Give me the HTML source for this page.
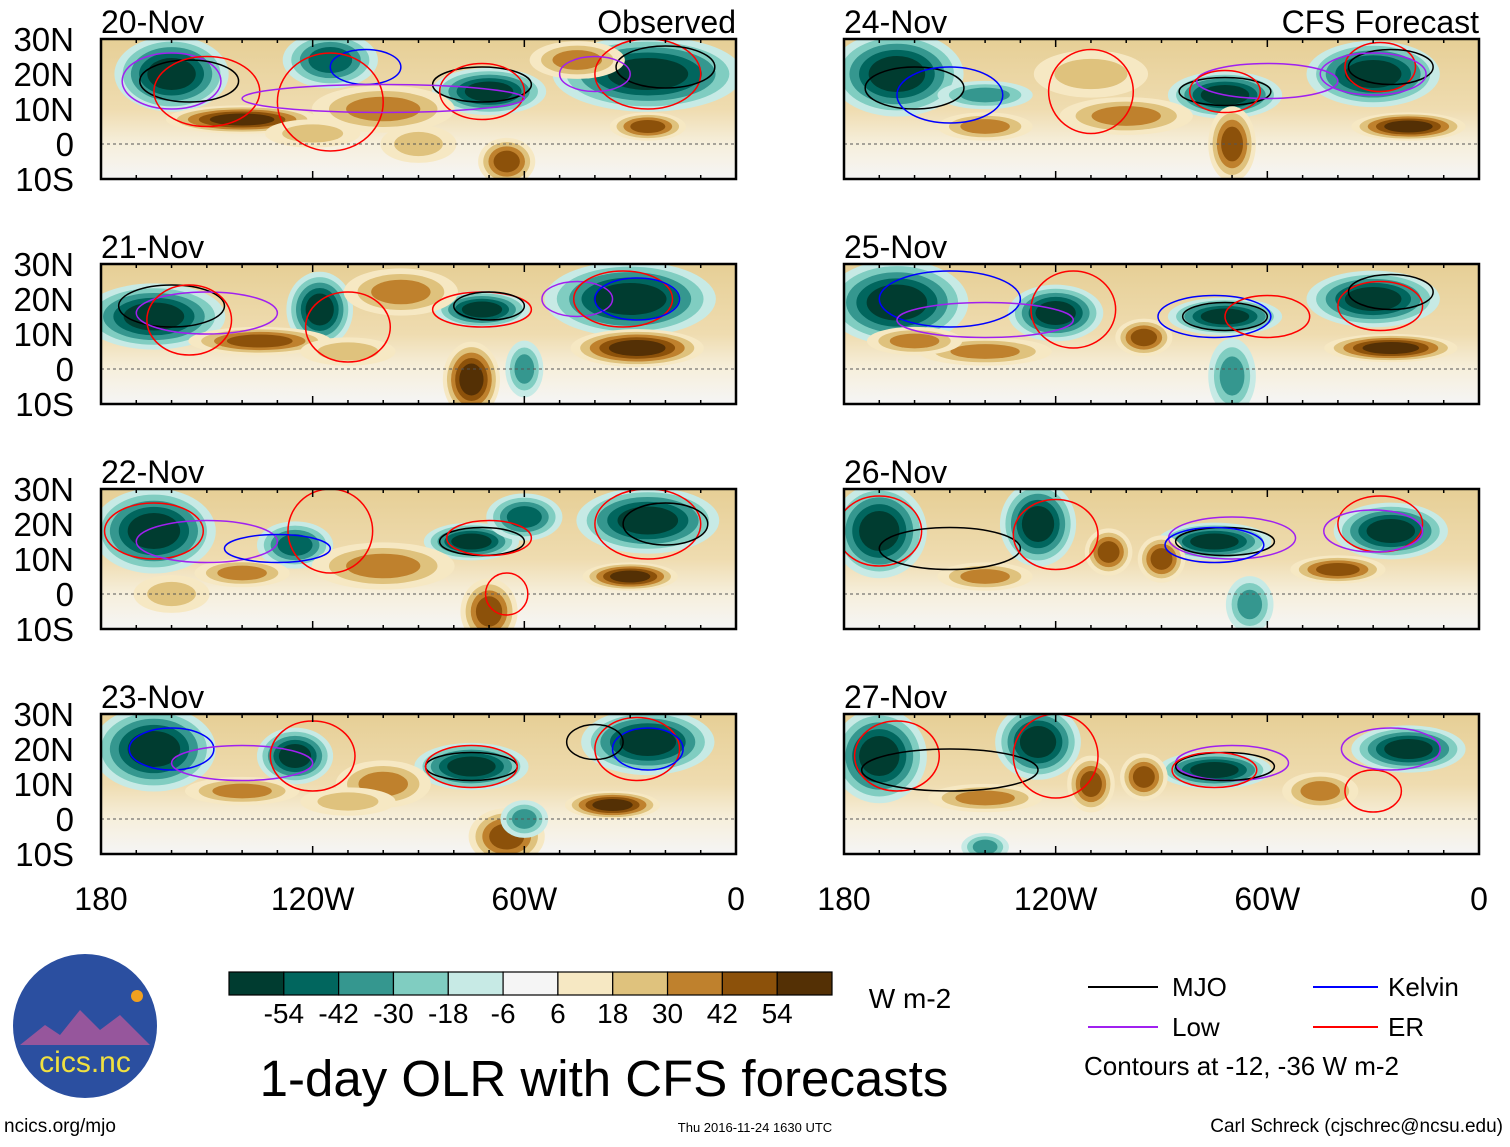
<!DOCTYPE html>
<html><head><meta charset="utf-8"><style>
body{margin:0;background:#fff;}
svg text{font-family:"Liberation Sans",sans-serif;}
</style></head><body>
<svg id="chart" width="1510" height="1142" viewBox="0 0 1510 1142" xmlns="http://www.w3.org/2000/svg">
<defs>
<linearGradient id="bg" x1="0" y1="0" x2="0" y2="1">
<stop offset="0" stop-color="#e6cf96"/><stop offset="0.5" stop-color="#efdcb0"/><stop offset="0.75" stop-color="#f6efdc"/><stop offset="1" stop-color="#f5f5f5"/>
</linearGradient>
</defs>
<g id="panels"></g>
<g id="colorbar"></g>
<text x="910" y="1008" font-size="28" text-anchor="middle">W m-2</text>
<text x="604" y="1096" font-size="51" text-anchor="middle">1-day OLR with CFS forecasts</text>
<g>
<line x1="1088" y1="987" x2="1158" y2="987" stroke="#000" stroke-width="2"/>
<text x="1172" y="996" font-size="26">MJO</text>
<line x1="1088" y1="1027" x2="1158" y2="1027" stroke="#a020f0" stroke-width="2"/>
<text x="1172" y="1036" font-size="26">Low</text>
<line x1="1313" y1="987" x2="1378" y2="987" stroke="#0000ff" stroke-width="2"/>
<text x="1388" y="996" font-size="26">Kelvin</text>
<line x1="1313" y1="1027" x2="1378" y2="1027" stroke="#ff0000" stroke-width="2"/>
<text x="1388" y="1036" font-size="26">ER</text>
<text x="1084" y="1075" font-size="26">Contours at -12, -36 W m-2</text>
</g>
<g>
<circle cx="85" cy="1026" r="72" fill="#2b4fa0"/>
<path d="M20 1045 L45 1025 L60 1035 L80 1010 L100 1030 L120 1015 L150 1045 Z" fill="#c45a9a" opacity="0.7"/>
<circle cx="137" cy="996" r="6" fill="#f0a020"/>
<text x="85" y="1072" font-size="30" fill="#f0e040" text-anchor="middle">cics.nc</text>
</g>
<text x="4" y="1132" font-size="19">ncics.org/mjo</text>
<text x="755" y="1132" font-size="13" text-anchor="middle">Thu 2016-11-24 1630 UTC</text>
<text x="1503" y="1132" font-size="19" text-anchor="end">Carl Schreck (cjschrec@ncsu.edu)</text>
</svg>
<script>
const NS="http://www.w3.org/2000/svg";
const levelColors=["#003c30","#01665e","#35978f","#80cdc1","#c7eae5","#f5f5f5","#f6e8c3","#dfc27d","#bf812d","#8c510a","#543005"];
const levelLabels=["-54","-42","-30","-18","-6","6","18","30","42","54"];
const panelDates=["20-Nov","21-Nov","22-Nov","23-Nov","24-Nov","25-Nov","26-Nov","27-Nov"];
const latTicks=[30,20,10,0,-10];
const lonTicks=[180,120,60,0];
// blobs: [lonW, lat, rxDeg, ryDeg, olrAnomaly]
const blobs20=[[160,20,12,8,-60],[115,24,10,6,-40],[70,15,12,5,-60],[25,20,20,8,-60],[140,7,16,3,50],[25,5,8,3,40],[65,-5,6,5,40],[100,10,15,5,25],[45,24,10,4,30],[120,3,10,3,20],[90,0,8,4,20]];
const blobs21=[[165,15,15,7,-60],[118,17,7,8,-50],[72,17,10,4,-60],[30,20,18,8,-60],[135,8,15,3,45],[28,6,14,4,55],[75,-3,6,8,50],[60,0,4,6,-30],[95,22,12,5,25],[110,5,10,3,20]];
const blobs22=[[165,18,13,9,-60],[125,14,8,5,-40],[75,15,10,4,-55],[60,22,8,5,-40],[25,21,15,7,-60],[30,5,10,3,50],[70,-5,6,7,45],[100,8,15,5,25],[140,6,10,3,30],[160,0,8,4,20]];
const blobs23=[[165,20,13,9,-60],[125,18,8,6,-50],[75,15,12,5,-60],[25,22,14,7,-60],[35,4,10,3,50],[65,-5,8,6,40],[100,10,10,5,30],[140,8,12,3,30],[60,0,5,4,-30],[110,5,10,3,20]];
const blobs24=[[165,20,14,9,-60],[140,14,10,3,-35],[72,14,12,5,-60],[30,20,14,7,-60],[20,5,12,3,55],[140,5,10,3,30],[70,0,5,8,40],[100,8,14,4,25],[110,20,12,5,20]];
const blobs25=[[165,19,15,9,-60],[120,16,10,6,-50],[72,15,12,4,-60],[30,20,14,6,-60],[25,6,14,3,55],[95,9,6,4,45],[140,5,14,3,35],[70,-2,5,8,-35],[160,8,10,3,30]];
const blobs26=[[170,18,10,10,-60],[125,20,8,9,-60],[75,15,12,4,-60],[25,18,12,6,-60],[40,7,10,3,45],[90,10,5,5,45],[105,12,5,5,40],[140,5,10,3,30],[65,-3,5,6,-30]];
const blobs27=[[170,18,10,10,-60],[125,22,9,8,-60],[75,14,12,4,-55],[20,20,12,5,-60],[95,12,5,5,45],[110,10,5,6,40],[45,8,8,4,35],[140,6,12,3,30],[140,-8,5,3,-25]];
const allBlobs=[blobs20,blobs21,blobs22,blobs23,blobs24,blobs25,blobs26,blobs27];
// contours: [type, lonW, lat, rxDeg, ryDeg]
const cont20=[["low",160,18,14,8],["mjo",155,18,14,6],["red",150,15,15,10],["blue",105,22,10,5],["red",115,12,15,14],["mjo",72,17,14,5],["red",72,15,12,8],["low",100,13,40,4],["red",25,20,15,10],["mjo",20,22,14,6],["low",40,20,10,5]];
const cont21=[["mjo",160,18,15,6],["low",150,16,20,6],["red",155,14,12,10],["red",72,17,14,5],["mjo",70,18,10,4],["low",45,20,10,5],["red",32,20,14,8],["blue",28,20,12,6],["red",110,12,12,10]];
const cont22=[["red",165,18,14,8],["low",150,15,20,6],["red",115,18,12,12],["mjo",72,15,12,4],["red",70,16,12,5],["red",25,20,15,10],["mjo",20,20,12,6],["blue",130,13,15,4],["red",65,0,6,6]];
const cont23=[["blue",160,20,12,6],["low",140,16,20,5],["red",120,18,12,10],["mjo",75,15,13,4],["red",75,15,13,6],["red",28,20,12,9],["blue",25,20,10,6],["mjo",40,22,8,5]];
const cont24=[["mjo",160,16,14,6],["blue",150,14,15,8],["red",110,15,12,12],["mjo",72,15,13,4],["low",60,18,20,5],["red",72,15,10,6],["red",28,22,10,7],["mjo",25,22,12,5],["low",30,20,15,6]];
const cont25=[["blue",150,20,20,8],["red",115,17,12,11],["mjo",72,15,12,4],["blue",75,15,16,6],["red",60,15,12,6],["red",28,18,12,7],["mjo",25,22,12,5],["low",140,14,25,5]];
const cont26=[["red",170,18,12,10],["mjo",150,13,20,6],["red",120,17,12,10],["low",70,16,18,6],["mjo",72,15,14,4],["red",28,20,12,8],["low",30,18,14,6],["blue",75,14,14,5]];
const cont27=[["red",165,18,12,10],["mjo",150,14,25,6],["red",120,18,12,12],["low",70,16,16,5],["mjo",72,15,14,4],["red",30,8,8,6],["low",25,20,14,6],["red",75,14,12,5]];
const allConts=[cont20,cont21,cont22,cont23,cont24,cont25,cont26,cont27];
const contColor={mjo:"#000",low:"#a020f0",blue:"#0000ff",red:"#ff0000"};

const PW=635, PH=140, BLOB_SCALE=1.35;
const colX=[101,844], rowY=[39,264,489,714];
function levelIndex(v){
  if(v<-48)return 0; if(v<-36)return 1; if(v<-24)return 2; if(v<-12)return 3; if(v<0)return 4;
  if(v<12)return 6; if(v<24)return 7; if(v<36)return 8; if(v<48)return 9; return 10;}
const root=document.getElementById('panels');
function mk(tag,attrs,parent){const e=document.createElementNS(NS,tag);for(const k in attrs)e.setAttribute(k,attrs[k]);parent.appendChild(e);return e;}
for(let p=0;p<8;p++){
  const x0=colX[Math.floor(p/4)], y0=rowY[p%4];
  const xs=lw=>x0+(180-lw)*PW/180;
  const ys=lat=>y0+(30-lat)*PH/40;
  const g=mk('g',{},root);
  
  
  const cp=mk('clipPath',{id:'cp'+p},g);
  mk('rect',{x:x0,y:y0,width:PW,height:PH},cp);
  const inner=mk('g',{'clip-path':'url(#cp'+p+')'},g);
  mk('rect',{x:x0,y:y0,width:PW,height:PH,fill:'url(#bg)'},inner);
  allBlobs[p].forEach(b=>{
    const [lw,lat,rx,ry,v]=b;
    const top=levelIndex(v);
    const start=v<0?4:6;
    const steps=v<0?(start-top):(top-start);
    for(let k=0;k<=steps;k++){
      const idx=v<0?start-k:start+k;
      const f=1-0.72*k/(steps+1);
      const e=mk('ellipse',{cx:xs(lw),cy:ys(lat),rx:rx*BLOB_SCALE*PW/180*f,ry:ry*BLOB_SCALE*PH/40*f,fill:levelColors[idx]},inner);
      
      
    }
  });
  mk('line',{x1:x0,y1:ys(0),x2:x0+PW,y2:ys(0),stroke:'#555','stroke-dasharray':'3,3','stroke-width':1},inner);
  allConts[p].forEach(c=>{
    const [t,lw,lat,rx,ry]=c;
    const e=mk('ellipse',{cx:xs(lw),cy:ys(lat),rx:rx*PW/180,ry:ry*PH/40,fill:'none',stroke:contColor[t],'stroke-width':1.5},inner);
    
    
  });
  const fr=mk('rect',{x:x0,y:y0,width:PW,height:PH,fill:'none',stroke:'#000','stroke-width':2.5},g);
  
  
  for(let lw=180;lw>=0;lw-=10){
    const len=(lw%60===0)?8:4;
    mk('line',{x1:xs(lw),y1:y0,x2:xs(lw),y2:y0+len,stroke:'#000','stroke-width':1.5},g);
    mk('line',{x1:xs(lw),y1:y0+PH,x2:xs(lw),y2:y0+PH-len,stroke:'#000','stroke-width':1.5},g);
  }
  const dt=mk('text',{x:x0,y:y0-6,'font-size':32},g);
  dt.textContent=panelDates[p];
  
  
  if(p===0||p===4){
    const lb=mk('text',{x:x0+PW,y:y0-6,'font-size':32,'text-anchor':'end'},g);
    lb.textContent=p===0?'Observed':'CFS Forecast';
    
    
  }
  if(p<4){
    latTicks.forEach(l=>{
      const t=mk('text',{x:74,y:ys(l)+12,'font-size':33,'text-anchor':'end'},g);
      t.textContent=l>0?l+'N':(l<0?(-l)+'S':'0');
      
      
    });
  }
  if(p%4===3){
    lonTicks.forEach(l=>{
      const t=mk('text',{x:xs(l),y:910,'font-size':32,'text-anchor':'middle'},g);
      t.textContent=(l===180||l===0)?String(l):l+'W';
      
      
    });
  }
}
const cb=document.getElementById('colorbar');
const cbx=229, cbw=603/11;
levelColors.forEach((c,i)=>{
  const r=mk('rect',{x:cbx+i*cbw,y:972,width:cbw,height:23,fill:c,stroke:'#000','stroke-width':1.2},cb);
  
  
});
levelLabels.forEach((l,i)=>{
  const t=mk('text',{x:cbx+(i+1)*cbw,y:1023,'font-size':28,'text-anchor':'middle'},cb);
  t.textContent=l;
  
  
});
</script>
</body></html>
